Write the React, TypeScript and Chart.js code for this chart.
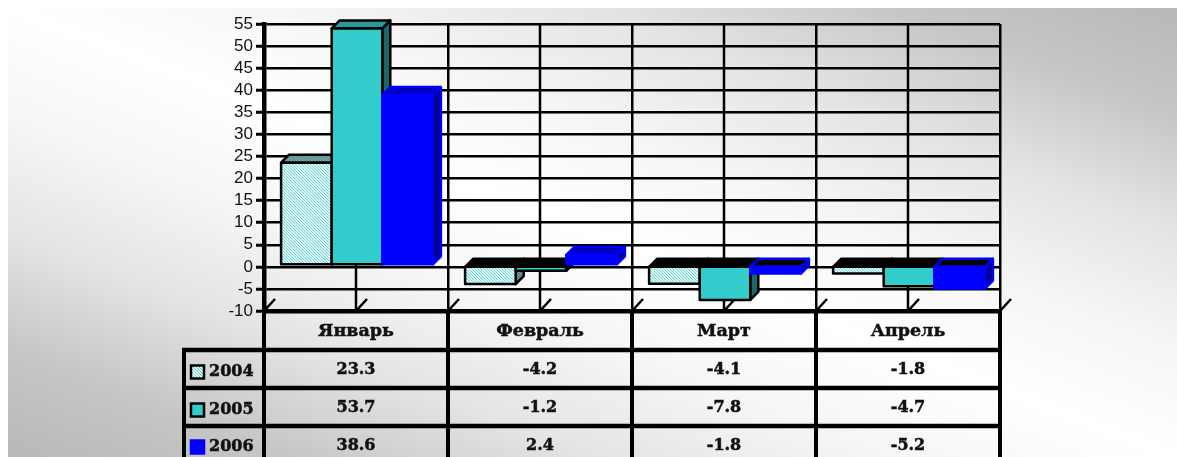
import React, { useEffect, useRef } from "react";
import { Chart, registerables } from "chart.js";

Chart.register(...registerables);

const categories = ["Январь", "Февраль", "Март", "Апрель"];
const years = ["2004", "2005", "2006"];
const series2004 = [23.3, -4.2, -4.1, -1.8];
const series2005 = [53.7, -1.2, -7.8, -4.7];
const series2006 = [38.6, 2.4, -1.8, -5.2];
const allSeries = [series2004, series2005, series2006];

const TABLE_FONT = "bold 16px 'DejaVu Serif'";
const DEPTH = 8;
const ROW_LINES = [350, 388, 426];
const ROW_TEXT = [370, 408, 446];
const LEGEND_TEXT = [372, 410, 447];

function hatch(fg: string, bg: string) {
  const c = document.createElement("canvas");
  c.width = 3;
  c.height = 3;
  const g = c.getContext("2d")!;
  g.fillStyle = bg;
  g.fillRect(0, 0, 3, 3);
  g.fillStyle = fg;
  for (let y = 0; y < 3; y++) {
    for (let x = 0; x < 3; x++) {
      if ((x - y + 3) % 3 === 0) g.fillRect(x, y, 1, 1);
    }
  }
  return g.createPattern(c, "repeat")!;
}

export default function App() {
  const ref = useRef<HTMLCanvasElement>(null);
  useEffect(() => {
    document.documentElement.style.overflow = "hidden";
    const styles = [
      { front: hatch("#33cccc", "#ffffff"), top: hatch("#2f9a9a", "#889a9a"), side: hatch("#335f5f", "#7f9a9a"), stroke: "#000000", lw: 2.5, sunk: "#000000" },
      { front: "#33cccc", top: "#2a9999", side: "#1f6666", stroke: "#000000", lw: 2.5, sunk: "#000000" },
      { front: "#0000ff", top: "#0000c0", side: "#000090", stroke: "#0000ff", lw: 2.5, sunk: "#000000" },
    ];
    const poly = (g: CanvasRenderingContext2D, pts: number[][], fill: any, s: any) => {
      g.beginPath();
      pts.forEach((p, i) => (i ? g.lineTo(p[0], p[1]) : g.moveTo(p[0], p[1])));
      g.closePath();
      g.fillStyle = fill;
      g.fill();
      g.strokeStyle = s.stroke;
      g.lineWidth = s.lw;
      g.lineJoin = "round";
      g.stroke();
    };
    const plugin = {
      id: "workbook3d",
      beforeDatasetDraw() {
        return false;
      },
      beforeDatasetsDraw(chart: any) {
        const g: CanvasRenderingContext2D = chart.ctx;
        const xs = chart.scales.x;
        const a = chart.chartArea;
        const half = xs.width / categories.length / 2;
        g.save();
        g.strokeStyle = "#000";
        g.lineWidth = 2.5;
        categories.forEach((_, i) => {
          const x = xs.getPixelForValue(i);
          g.beginPath();
          g.moveTo(x, a.top);
          g.lineTo(x, a.bottom);
          g.stroke();
        });
        const slashes = [a.left];
        categories.forEach((_, i) => {
          const x = xs.getPixelForValue(i);
          slashes.push(x, x + half);
        });
        slashes.forEach((x) => {
          g.beginPath();
          g.moveTo(x, a.bottom);
          g.lineTo(x + 11, a.bottom - 12);
          g.stroke();
        });
        g.restore();

        g.save();
        g.translate(1, -1.3);
        allSeries.forEach((vals, ds) => {
          const meta = chart.getDatasetMeta(ds);
          const s = styles[ds];
          meta.data.forEach((bar: any, i: number) => {
            const x0 = bar.x - bar.width / 2;
            const x1 = bar.x + bar.width / 2;
            const yTop = Math.min(bar.y, bar.base);
            const yBot = Math.max(bar.y, bar.base);
            const d = DEPTH;
            const negative = vals[i] < 0;
            poly(g, [[x1, yTop], [x1 + d, yTop - d], [x1 + d, yBot - d], [x1, yBot]], s.side, s);
            poly(g, [[x0, yTop], [x0 + d, yTop - d], [x1 + d, yTop - d], [x1, yTop]], negative ? s.sunk : s.top, s);
          });
          g.save();
          meta.controller.draw();
          g.restore();
          meta.data.forEach((bar: any) => {
            const x0 = bar.x - bar.width / 2;
            const yTop = Math.min(bar.y, bar.base);
            const yBot = Math.max(bar.y, bar.base);
            g.strokeStyle = s.stroke;
            g.lineWidth = s.lw;
            g.strokeRect(x0, yTop, bar.width, yBot - yTop);
          });
        });
        g.restore();
      },
      afterDraw(chart: any) {
        const g: CanvasRenderingContext2D = chart.ctx;
        const xs = chart.scales.x;
        const a = chart.chartArea;
        const half = xs.width / categories.length / 2;
        const off = { x: 8, y: 8 };
        const bottom = chart.height;
        const legendLeft = 184 - off.x;
        const label = (t: string, x: number, y: number) => {
          g.fillStyle = "#111";
          g.strokeStyle = "#111";
          g.lineWidth = 0.5;
          g.fillText(t, x, y);
          g.strokeText(t, x, y);
        };
        g.save();
        g.strokeStyle = "#000";
        g.lineWidth = 4;
        const edges = [a.left];
        categories.forEach((_, i) => edges.push(xs.getPixelForValue(i) + half));
        edges.forEach((x) => {
          g.beginPath();
          g.moveTo(x, a.bottom);
          g.lineTo(x, bottom);
          g.stroke();
        });
        g.beginPath();
        g.moveTo(legendLeft, ROW_LINES[0] - off.y - 2);
        g.lineTo(legendLeft, bottom);
        g.stroke();
        g.lineWidth = 4.5;
        ROW_LINES.forEach((y) => {
          g.beginPath();
          g.moveTo(legendLeft - 2, y - off.y);
          g.lineTo(a.right + 2, y - off.y);
          g.stroke();
        });
        g.font = TABLE_FONT;
        g.textBaseline = "middle";
        allSeries.forEach((vals, r) => {
          g.textAlign = "center";
          vals.forEach((v, c) => {
            label(v.toFixed(1), xs.getPixelForValue(c), ROW_TEXT[r] - off.y);
          });
          const s = styles[r];
          const ly = LEGEND_TEXT[r] - off.y;
          g.fillStyle = s.front as any;
          g.strokeStyle = s.stroke;
          g.lineWidth = 2.5;
          g.fillRect(191 - off.x, ly - 6.5, 13, 13);
          g.strokeRect(191 - off.x, ly - 6.5, 13, 13);
          g.textAlign = "left";
          label(years[r], 209 - off.x, ly);
        });
        g.restore();
      },
    };
    const chart = new Chart(ref.current!, {
      type: "bar",
      data: {
        labels: categories,
        datasets: allSeries.map((data, i) => ({
          label: years[i],
          data,
          backgroundColor: styles[i].front as any,
          borderWidth: 0,
          categoryPercentage: 0.825,
          barPercentage: 1,
        })),
      },
      options: {
        animation: false,
        responsive: false,
        layout: { padding: { top: 16, right: 177, left: 0, bottom: 0 } },
        plugins: { legend: { display: false }, tooltip: { enabled: false } },
        scales: {
          x: {
            afterFit(scale: any) {
              scale.height = 146;
            },
            grid: { color: "#000", lineWidth: 2.5, drawTicks: false, offset: true },
            border: { color: "#000", width: 4.5 },
            ticks: {
              color: "#111",
              padding: 10,
              maxRotation: 0,
              textStrokeColor: "#111",
              textStrokeWidth: 0.5,
              font: { family: "'DejaVu Serif'", weight: "bold", size: 17.5 },
            },
          },
          y: {
            min: -10,
            max: 55,
            afterFit(scale: any) {
              scale.width = 256;
            },
            grid: { color: "#000", lineWidth: 2.5, tickLength: 8, tickColor: "#000", tickWidth: 3 },
            border: { color: "#000", width: 4.5 },
            ticks: {
              stepSize: 5,
              autoSkip: false,
              padding: 3,
              color: "#111",
              font: { family: "'Liberation Sans'", size: 17 },
            },
          },
        },
      },
      plugins: [plugin as any],
    });
    return () => chart.destroy();
  }, []);
  return (
    <div
      style={{
        position: "absolute",
        left: 8,
        top: 8,
        width: 1169,
        height: 449,
        overflow: "hidden",
        background:
          "linear-gradient(to top right, #b8b8b8 0%, #c6c6c6 12%, #e4e4e4 25%, #f6f6f6 38%, #ffffff 50%, #f6f6f6 62%, #e4e4e4 75%, #c6c6c6 88%, #b8b8b8 100%)",
      }}
    >
      <canvas ref={ref} width={1169} height={449} style={{ display: "block" }} />
    </div>
  );
}
